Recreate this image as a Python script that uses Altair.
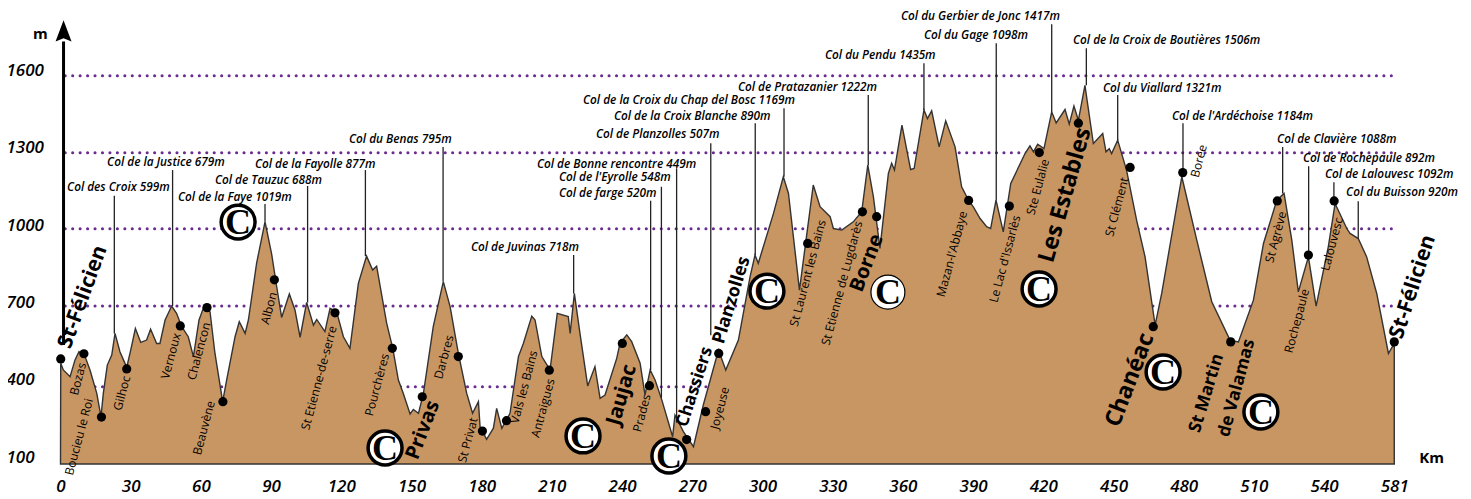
import altair as alt
import pandas as pd

# ---- profile (km on the printed axis, metres)
prof_km = [0,0.1,1.2,4.1,6.2,7.9,10.5,12.6,15.5,17.3,18.3,20.0,21.9,23.3,25.4,28.3,30.0,32.0,34.3,36.8,38.5,41.1,42.5,44.7,47.5,49.6,51.8,54.6,56.8,59.2,61.3,63.9,66.0,69.3,71.0,74.6,76.4,78.9,80.3,83.8,87.4,90.2,92.4,94.5,97.8,100.2,102.4,105.2,108.1,109.5,113.0,115.2,118.0,120.9,123.7,127.3,130.8,133.4,135.1,139.4,142.0,144.4,146.5,149.4,150.8,153.0,155.1,159.3,163.6,166.5,170.0,173.6,176.1,178.6,179.3,182.1,185.0,186.4,188.6,192.1,195.7,197.8,201.4,202.8,205.7,209.2,212.3,217.0,217.8,219.6,222.0,225.3,228.4,230.6,232.7,237.7,239.1,242.0,244.1,247.7,249.8,252.0,254.1,257.0,261.6,262.6,266.2,270.5,274.7,281.2,284.3,289.7,294.7,296.8,298.2,304.7,308.9,311.1,315.8,321.7,324.6,328.9,330.3,333.9,338.8,342.4,345.0,347.4,350.2,353.8,355.2,356.4,359.6,363.3,364.8,369.0,370.5,372.3,375.5,378.3,382.3,385.1,388.0,390.1,393.0,395.8,397.5,399.8,402.9,406.1,412.2,414.3,415.8,417.6,420.3,423.6,425.5,429.3,431.1,433.1,435.0,437.8,441.4,445.4,446.8,448.2,449.2,451.8,455.6,459.9,463.5,467.8,470.6,479.2,485.6,492.0,499.8,503.4,509.8,514.1,519.8,522.9,526.2,529.0,533.3,536.6,541.8,544.7,549.7,551.1,554.6,558.2,562.5,567.5,570,570]
prof_m = [100,491,465,439,504,536,517,465,374,284,374,484,523,607,536,475,542,626,572,581,623,568,568,659,713,685,633,594,517,659,711,691,530,342,426,594,652,607,659,879,1040,917,788,669,760,698,592,727,639,661,614,704,691,594,549,801,907,853,868,646,549,426,374,294,312,297,374,633,808,711,530,374,297,342,245,196,239,316,238,297,517,568,674,659,517,465,685,672,607,762,607,403,478,355,368,510,568,601,575,491,368,465,426,348,206,290,226,167,329,542,465,581,827,911,879,1073,1215,1150,775,1183,1099,1060,1014,1008,1040,1079,1260,1137,937,1228,1267,1241,1415,1243,1247,1474,1441,1471,1331,1432,1331,1176,1124,1098,1053,1021,1014,1124,1001,1189,1305,1335,1312,1341,1324,1467,1424,1476,1419,1489,1434,1570,1344,1383,1312,1324,1305,1357,1240,1046,904,639,762,1215,969,730,581,574,736,956,1124,1150,969,768,904,713,943,1111,1014,995,975,904,762,529,568,100]

# ---- dotted reference levels as drawn
grid_m = [1607,1308,1013,713,400]

# ---- town dots
dot_km = [0.1,10.0,17.5,28.3,51.2,62.6,69.4,91.4,117.3,141.8,154.6,170.0,180.3,190.6,208.9,240.1,251.7,267.6,275.7,281.3,319.3,342.7,348.8,388.1,405.5,418.3,435.0,457.1,467.0,479.6,500.1,520.0,533.3,544.3,570.0]
dot_m = [508,528,282,469,636,707,342,815,687,549,361,517,228,268,464,568,404,195,303,529,956,1079,1060,1123,1101,1309,1423,1251,633,1231,574,1121,911,1121,574]

# ---- pass labels with their leader lines
pass_names = ["Col des Croix 599m","Col de la Justice 679m","Col de la Faye 1019m","Col de Tauzuc 688m","Col de la Fayolle 877m","Col du Benas 795m","Col de Juvinas 718m","Col de farge 520m","Col de l'Eyrolle 548m","Col de Bonne rencontre 449m","Col de Planzolles 507m","Col de la Croix Blanche 890m","Col de la Croix du Chap del Bosc 1169m","Col de Pratazanier 1222m","Col du Pendu 1435m","Col du Gage 1098m","Col du Gerbier de Jonc 1417m","Col de la Croix de Boutières 1506m","Col du Viallard 1321m","Col de l'Ardéchoise 1184m","Col de Clavière 1088m","Col de Rochepaule 892m","Col de Lalouvesc 1092m","Col du Buisson 920m"]
pass_text_km = [2.8,19.9,50.2,66.0,83.1,123.3,175.4,213.0,213.0,203.6,228.8,236.5,223.3,289.5,326.7,369.0,359.2,432.7,445.5,475.0,519.9,531.0,540.4,549.4]
pass_text_m = [1175,1272,1136,1202,1264,1361,942,1151,1214,1264,1380,1450,1512,1563,1687,1765,1838,1745,1559,1450,1361,1287,1225,1155]
lead_km = [23.0,47.9,87.4,105.6,130.3,163.5,219.3,252.2,256.8,263.3,277.9,296.9,309.2,345.2,369.0,399.9,423.6,438.4,451.8,479.7,522.3,533.4,544.2,554.6]
lead_top = [1141,1241,1109,1179,1241,1330,911,1122,1176,1248,1345,1423,1481,1532,1656,1733,1807,1714,1532,1423,1330,1256,1194,1120]
lead_bottom = [607,713,1040,727,907,808,762,465,357,260,600,911,1215,1260,1474,1124,1467,1570,1357,1215,1150,904,1121,975]

# ---- small rotated village names
town_names = ["Bozas","Boucieu le Roi","Gilhoc","Vernoux","Chalencon","Beauvène","Albon","St Etienne-de-serre","Pourchères","Darbres","St Privat","Vals les Bains","Antraigues","Prades","Joyeuse","St Laurent les Bains","St Etienne de Lugdarès","Mazan-l'Abbaye","Le Lac d'Issarlès","Ste Eulalie","St Clément","Borée","St Agrève","Rochepaule","Lalouvesc"]
town_km = [7.5,7.9,26.3,47.2,59.2,61.3,89.1,110.5,135.3,163.9,174.1,198.1,206.2,248.5,281.8,319.4,334.0,381.0,403.6,417.7,451.5,486.5,519.4,528.4,543.4]
town_m = [430,205,375,519,538,240,705,434,407,515,193,399,317,298,317,841,802,915,896,1175,1098,1276,981,655,954]

# ---- large rotated stage towns
big_names = ["St-Félicien","Privas","Jaujac","Chassiers","Planzolles","Borne","Les Estables","Chanéac","St Martin","de Valamas","St-Félicien"]
big_km = [9.6,154.9,239.9,271.1,286.9,344.6,429.3,457.0,489.8,502.7,578.0]
big_m = [748,232,368,399,736,880,1144,426,375,395,787]
big_fs = [21,20,20.5,17.5,18,20,23,23,17.5,17.5,21]
big_angle = [290,291,286,288,287,291,286,291,287,285,288]

# ---- "C" marks
c_km = [75.9,138.7,223.3,260.0,301.9,353.6,418.2,471.2,513.0]
c_m = [1039,162,209,131,771,767,779,457,302]

# ---- axis tick values
x_ticks = [0,30,60,90,120,150,180,210,240,270,300,330,360,390,420,450,480,510,540,570]
y_ticks = [100,400,700,1000,1300,1600]

X_DOM = [0,598.3]
Y_DOM = [100,1870]
xs = alt.Scale(domain=X_DOM, nice=False, zero=False)
ys = alt.Scale(domain=Y_DOM, nice=False, zero=False)
FONT = "Open Sans"
AX = alt.Axis(values=x_ticks, title=None, grid=False, domain=False, ticks=False,
        labelFont=FONT, labelFontSize=17, labelFontStyle="italic", labelFontWeight=600, labelColor="#000",
        labelPadding=14, labelFlush=False, labelOverlap=False, labelExpr="datum.value==570?'581':datum.label")
AY = alt.Axis(values=y_ticks, title=None, grid=False, domain=False, ticks=False,
        labelFont=FONT, labelFontSize=17, labelFontStyle="italic", labelFontWeight=600, labelColor="#000",
        labelAlign="left", labelPadding=54.5, labelOffset=-7, labelBound=False, labelFlush=False, labelOverlap=False,
        format="d")
X = lambda f="km": alt.X(f"{f}:Q", scale=xs, axis=AX, title=None)
Y = lambda f="m": alt.Y(f"{f}:Q", scale=ys, axis=AY, title=None)

prof = pd.DataFrame({"km":prof_km,"m":prof_m})
dots = pd.DataFrame({"km":dot_km,"m":dot_m})
grid = pd.DataFrame({"m":grid_m,"km":[2]*5,"km2":[570]*5})
passes = pd.DataFrame({"name":pass_names,"km":pass_text_km,"m":pass_text_m})
leads = pd.DataFrame({"km":lead_km,"m":lead_top,"m2":lead_bottom})
towns = pd.DataFrame({"name":town_names,"km":town_km,"m":town_m})
bigs = pd.DataFrame({"name":big_names,"km":big_km,"m":big_m,"fs":big_fs,"a":big_angle})
cs = pd.DataFrame({"km":c_km,"m":c_m,"c":["C"]*9,"sw":[3.5,3.5,3.5,3.5,3.5,1.2,3.5,3.5,3.5]})

gridl = alt.Chart(grid).mark_rule(color="#6a2c91", strokeWidth=3, strokeDash=[0.1,7.35], strokeCap="round").encode(
    x=X(), x2="km2:Q", y=Y())
area = alt.Chart(prof).mark_area(color="#C89662", stroke="#333333", strokeWidth=1.4, interpolate="linear").encode(
    x=X(), y=Y(), y2=alt.Y2(datum=100))
leader = alt.Chart(leads).mark_rule(color="#222", strokeWidth=1.3).encode(x=X(), y=Y(), y2="m2:Q")
dot = alt.Chart(dots).mark_circle(color="#000", size=85, opacity=1).encode(x=X(), y=Y())
ptext = alt.Chart(passes).mark_text(font=FONT, fontSize=11.8, fontStyle="italic", fontWeight=600, align="left",
    baseline="middle", color="#000").encode(x=X(), y=Y(), text="name:N")
ttext = alt.Chart(towns).mark_text(font=FONT, fontSize=12, angle=285, align="center", baseline="middle", color="#000").encode(
    x=X(), y=Y(), text="name:N")
btext = alt.Chart(bigs).mark_text(font=FONT, fontWeight=700, align="center", baseline="middle",
    color="#000").encode(x=X(), y=Y(), text="name:N", size=alt.Size("fs:Q", scale=None, legend=None),
    angle=alt.Angle("a:Q", scale=None))
ccirc = alt.Chart(cs).mark_circle(color="#fff", opacity=1, size=1150, stroke="#000", strokeOpacity=1).encode(
    x=X(), y=Y(), strokeWidth=alt.StrokeWidth("sw:Q", scale=None, legend=None))
ctext = alt.Chart(cs).mark_text(font="Liberation Serif", fontSize=36, fontWeight=700, align="center", baseline="middle",
    color="#000", dy=1).encode(x=X(), y=Y(), text="c:N")

arrow_shaft = alt.Chart(pd.DataFrame({"km":[1.3],"m":[1740],"m2":[562]})).mark_rule(color="#000", strokeWidth=3).encode(
    x=X(), y=Y(), y2="m2:Q")
arrow_head = alt.Chart(pd.DataFrame({"km":[1.3],"m":[1771]})).mark_point(shape="M0,-1.25L-0.75,0.75L0,0.45L0.75,0.75Z", filled=True, color="#000",
    size=455, opacity=1).encode(x=X(), y=Y())
unit_m = alt.Chart(pd.DataFrame({"km":[-8.6],"m":[1770],"t":["m"]})).mark_text(font=FONT, fontSize=15, fontWeight=700, color="#000").encode(
    x=X(), y=Y(), text="t:N")
unit_km = alt.Chart(pd.DataFrame({"km":[586],"m":[123],"t":["Km"]})).mark_text(font=FONT, fontSize=15, fontWeight=700, color="#000").encode(
    x=X(), y=Y(), text="t:N")

chart = alt.layer(gridl, area, leader, dot, ttext, ptext, btext, ccirc, ctext, arrow_shaft, arrow_head, unit_m, unit_km
).resolve_scale(x="shared", y="shared").properties(
    width=1400, height=456,
    autosize=alt.AutoSizeParams(type="none"),
    padding={"left":52.5,"top":0,"right":2.5,"bottom":35},
    background="white",
).configure_view(stroke=None)

chart.save("out.html", embed_options={"renderer":"svg","actions":False})
